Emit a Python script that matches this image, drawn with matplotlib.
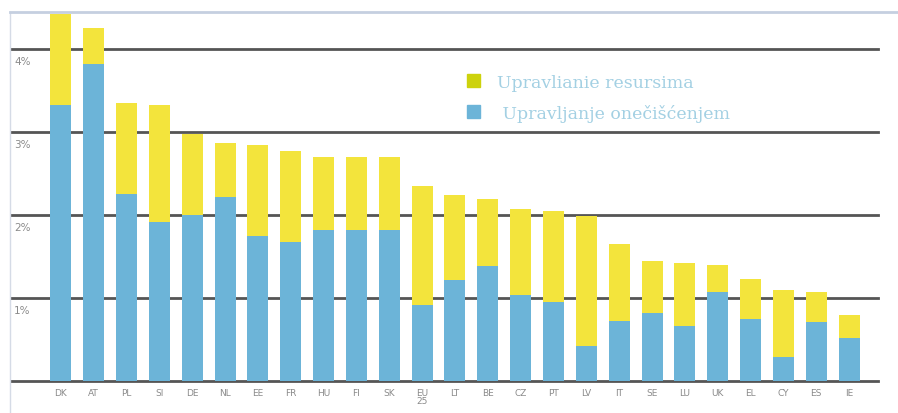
import matplotlib
matplotlib.use("Agg")
import matplotlib.pyplot as plt
import matplotlib.transforms as mtransforms
from matplotlib.patches import Patch

# shares of GDP (%)
countries = ["DK", "AT", "PL", "SI", "DE", "NL", "EE", "FR", "HU", "FI", "SK", "EU\n25",
             "LT", "BE", "CZ", "PT", "LV", "IT", "SE", "LU", "UK", "EL", "CY", "ES", "IE"]
pollution = [3.33, 3.82, 2.25, 1.92, 2.00, 2.22, 1.75, 1.67, 1.82, 1.82, 1.82, 0.92,
             1.22, 1.39, 1.04, 0.95, 0.42, 0.72, 0.82, 0.66, 1.07, 0.75, 0.29, 0.71, 0.52]
total = [4.42, 4.25, 3.35, 3.33, 2.98, 2.87, 2.84, 2.77, 2.70, 2.70, 2.70, 2.35,
         2.24, 2.19, 2.07, 2.05, 1.99, 1.65, 1.45, 1.42, 1.40, 1.23, 1.10, 1.07, 0.80]
resources = [t - p for t, p in zip(total, pollution)]
yticks = [1, 2, 3, 4]
ytick_labels = ["1%", "2%", "3%", "4%"]

yellow = "#f3e43c"
blue = "#6cb4d8"

fig = plt.figure(figsize=(8.98, 4.14), dpi=100)
ax = fig.add_axes([10 / 898, 0, 888 / 898, 401 / 414])

x = list(range(len(countries)))
ax.bar(x, pollution, width=0.64, color=blue, zorder=3)
ax.bar(x, resources, bottom=pollution, width=0.64, color=yellow, zorder=3)

for v in [0] + yticks:
    ax.axhline(v, xmin=0, xmax=0.977, color="#555555", lw=2, zorder=2)

ax.set_xlim(-1.55, 25.49)
ax.set_ylim(-0.386, 4.446)

for side in ["right", "bottom"]:
    ax.spines[side].set_visible(False)
ax.spines["top"].set_color("#c5cfe0")
ax.spines["top"].set_linewidth(2)
ax.spines["left"].set_color("#d5dbe6")
ax.spines["left"].set_linewidth(1)

ax.set_yticks(yticks)
ax.set_yticklabels(ytick_labels)
ax.tick_params(axis="y", length=0, pad=-3, labelsize=7.5, labelcolor="#8a8a8a")
offset = mtransforms.ScaledTranslation(0, -5 / 72, fig.dpi_scale_trans)
for lbl in ax.get_yticklabels():
    lbl.set_ha("left")
    lbl.set_va("top")
    lbl.set_transform(lbl.get_transform() + offset)

ax.set_xticks(x)
ax.set_xticklabels(countries, linespacing=0.9)
ax.tick_params(axis="x", length=0, pad=-18, labelsize=6.5, labelcolor="#8a8a8a")
for lbl in ax.get_xticklabels():
    lbl.set_va("top")

handles = [Patch(color="#cdd20c"), Patch(color=blue)]
leg = ax.legend(handles, ["Upravlianie resursima", " Upravljanje onečišćenjem"],
                loc="upper left", bbox_to_anchor=(0.497, 0.885), frameon=False,
                handlelength=0.75, handleheight=0.75, handletextpad=1.0,
                labelspacing=0.75, prop={"family": "DejaVu Serif", "size": 12.5})
for t in leg.get_texts():
    t.set_color("#a3d0e3")

fig.savefig("out.png", dpi=100)
